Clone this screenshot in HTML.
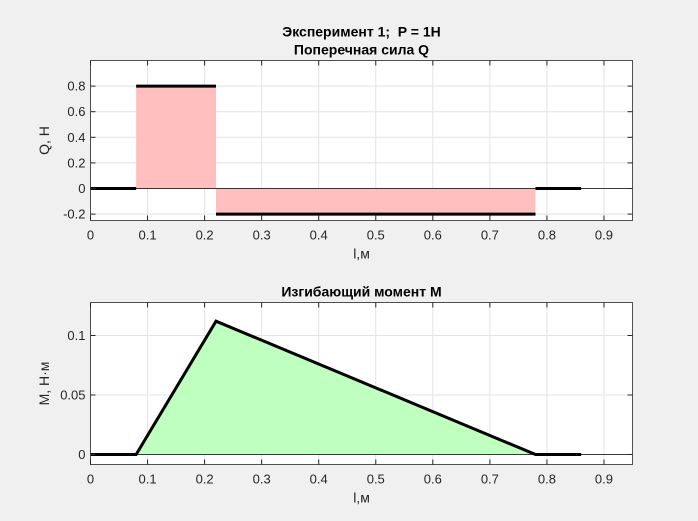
<!DOCTYPE html>
<html><head><meta charset="utf-8"><style>
body{margin:0;background:#f0f0f0;}
svg{display:block;font-family:"Liberation Sans",sans-serif;}
text{white-space:pre;}
</style></head><body>
<svg id="c" width="698" height="521"></svg>
<script>
const xTicks=[0,0.1,0.2,0.3,0.4,0.5,0.6,0.7,0.8,0.9];
const qTicks=[-0.2,0,0.2,0.4,0.6,0.8];
const mTicks=[0,0.05,0.1];
const qX=[0,0.08,0.08,0.22,0.22,0.78,0.78,0.86];
const qY=[0,0,0.8,0.8,-0.2,-0.2,0,0];
const mX=[0,0.08,0.22,0.78,0.86];
const mY=[0,0,0.112,0,0];
const NS="http://www.w3.org/2000/svg";
const svg=document.getElementById('c');
function mk(t,a,p){const e=document.createElementNS(NS,t);for(const k in a)e.setAttribute(k,a[k]);(p||svg).appendChild(e);return e;}
function panel(name,top,bot,ymin,ymax,yt,xs,ys,fill,title,ylab,fmt){
 const L=90.5,R=632.5;
 const sx=v=>L+(v/0.95)*(R-L);
 const sy=v=>bot-(v-ymin)/(ymax-ymin)*(bot-top);
 const g=mk('g',{});
 
 
 mk('rect',{x:L,y:top,width:R-L,height:bot-top,fill:'#fff'},g);
 xTicks.forEach(v=>{mk('line',{x1:sx(v),x2:sx(v),y1:top,y2:bot,stroke:'#e3e3e3'},g);});
 yt.forEach(v=>{mk('line',{x1:L,x2:R,y1:sy(v),y2:sy(v),stroke:'#e3e3e3'},g);});
 let d='M'+sx(xs[0])+','+sy(0);
 xs.forEach((x,i)=>d+=' L'+sx(x)+','+sy(ys[i]));
 d+=' L'+sx(xs[xs.length-1])+','+sy(0)+'Z';
 const f=mk('path',{d:d,fill:fill,stroke:'none'},g);
 
 
 mk('line',{x1:L,x2:R,y1:sy(0),y2:sy(0),stroke:'#000','stroke-width':0.8},g);
 if(name==='shear-panel'){
  for(let i=0;i<xs.length;i+=2){
   const s=mk('line',{x1:sx(xs[i]),x2:sx(xs[i+1]),y1:sy(ys[i]),y2:sy(ys[i+1]),stroke:'#000','stroke-width':3},g);
   
   
  }
 } else {
  const ln=mk('polyline',{points:xs.map((x,i)=>sx(x)+','+sy(ys[i])).join(' '),fill:'none',stroke:'#000','stroke-width':3},g);
  
  
 }
 mk('rect',{x:L,y:top,width:R-L,height:bot-top,fill:'none',stroke:'#262626','stroke-width':0.8},g);
 xTicks.forEach(v=>{
  mk('line',{x1:sx(v),x2:sx(v),y1:bot,y2:bot-5,stroke:'#262626'},g);
  mk('line',{x1:sx(v),x2:sx(v),y1:top,y2:top+5,stroke:'#262626'},g);
  const t=mk('text',{x:sx(v),y:bot+19,'text-anchor':'middle','font-size':13,fill:'#262626'},g);t.textContent=String(v);
  
 });
 yt.forEach(v=>{
  mk('line',{x1:L,x2:L+5,y1:sy(v),y2:sy(v),stroke:'#262626'},g);
  mk('line',{x1:R,x2:R-5,y1:sy(v),y2:sy(v),stroke:'#262626'},g);
  const t=mk('text',{x:L-5,y:sy(v)+4.5,'text-anchor':'end','font-size':13,fill:'#262626'},g);t.textContent=fmt(v);
  
 });
 const xl=mk('text',{x:(L+R)/2,y:bot+38,'text-anchor':'middle','font-size':14,fill:'#262626'},g);xl.textContent='l,м';
 
 const yl=mk('text',{x:0,y:0,'text-anchor':'middle','font-size':14,fill:'#262626',transform:'translate(49,'+((top+bot)/2)+') rotate(-90)'},g);yl.textContent=ylab;
 
 title.forEach((s,i)=>{
  const t=mk('text',{x:(L+R)/2,y:top-6-(title.length-1-i)*18,'text-anchor':'middle','font-size':14,'font-weight':'bold',fill:'#000'},g);t.textContent=s;
  
 });
}
panel('shear-panel',60.5,220.5,-0.25,1.0,qTicks,qX,qY,'#ffbfbf',['Эксперимент 1;  P = 1H','Поперечная сила Q'],'Q, H',v=>String(Math.round(v*10)/10));
panel('moment-panel',302.5,464.5,-0.0084,0.1277,mTicks,mX,mY,'#bfffbf',['Изгибающий момент M'],'M, H·м',v=>String(v));
</script>
</body></html>
